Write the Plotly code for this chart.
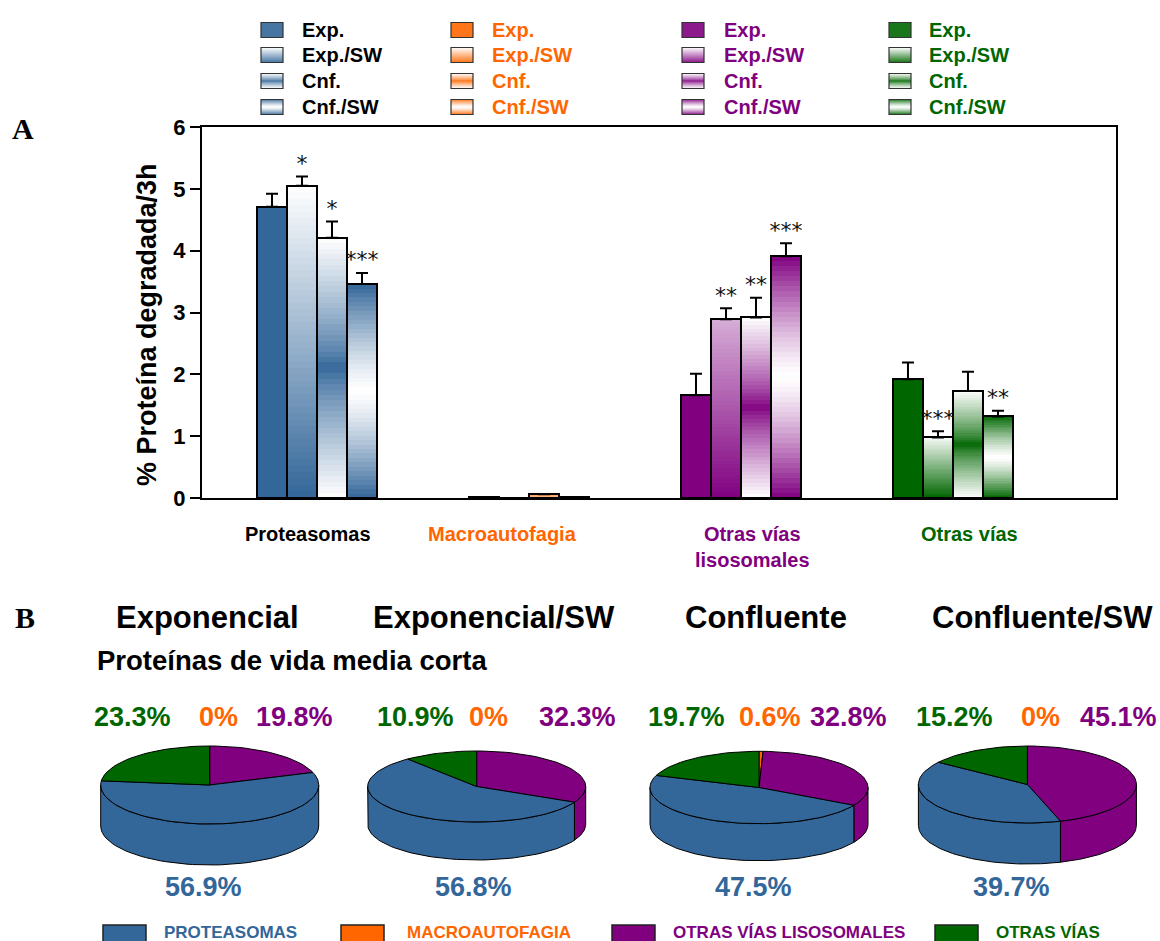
import math
import plotly.graph_objects as go

# ---------------- data ----------------
categories = ["Proteasomas", "Macroautofagia", "Otras vías<br>lisosomales", "Otras vías"]
series_names = ["Exp.", "Exp./SW", "Cnf.", "Cnf./SW"]

exp_vals = [4.71, 0.01, 1.66, 1.92]
expsw_vals = [5.05, 0.00, 2.89, 0.98]
cnf_vals = [4.21, 0.06, 2.92, 1.73]
cnfsw_vals = [3.46, 0.01, 3.91, 1.32]

exp_err = [0.21, 0.0, 0.35, 0.27]
expsw_err = [0.15, 0.0, 0.18, 0.10]
cnf_err = [0.26, 0.0, 0.32, 0.31]
cnfsw_err = [0.18, 0.0, 0.21, 0.09]

exp_sig = ["", "", "", ""]
expsw_sig = ["*", "", "**", "***"]
cnf_sig = ["*", "", "**", ""]
cnfsw_sig = ["***", "", "***", "**"]

pie_titles = ["Exponencial", "Exponencial/SW", "Confluente", "Confluente/SW"]
pie_subtitle = "Proteínas de vida media corta"
pie_legend = ["PROTEASOMAS", "MACROAUTOFAGIA", "OTRAS VÍAS LISOSOMALES", "OTRAS VÍAS"]
pie_proteasomas = [56.9, 56.8, 47.5, 39.7]
pie_macro = [0, 0, 0.6, 0]
pie_lisos = [19.8, 32.3, 32.8, 45.1]
pie_otras = [23.3, 10.9, 19.7, 15.2]

# ---------------- styles ----------------
BLUE, ORANGE, PURPLE, GREEN = "#336699", "#FF6600", "#800080", "#006600"
group_colors = [BLUE, ORANGE, PURPLE, GREEN]
label_colors = ["#000000", ORANGE, PURPLE, GREEN]
sw_top = [1.0, 1.0, 0.68, 0.97]
FONT = "Liberation Sans"
W, H = 1160, 941

values = [exp_vals, expsw_vals, cnf_vals, cnfsw_vals]
errors = [exp_err, expsw_err, cnf_err, cnfsw_err]
sigs = [exp_sig, expsw_sig, cnf_sig, cnfsw_sig]


def hex2rgb(h):
    h = h.lstrip("#")
    return [int(h[i:i + 2], 16) for i in (0, 2, 4)]


def mix(col, t):
    r, g, b = hex2rgb(col)
    t = max(0.0, min(1.0, t))
    return "rgb(%d,%d,%d)" % (round(r + (255 - r) * t), round(g + (255 - g) * t), round(b + (255 - b) * t))


def whiteness(s, f, top=1.0):
    d = abs(f - 0.5) * 2
    if s == 0:
        return 0.0
    if s == 1:
        return f * top
    if s == 2:
        return d ** 0.8
    return 1 - d ** 1.3


fig = go.Figure()

# ---------------- bar chart (A) ----------------
bw = 0.1415
xpos = lambda s: [g + (s - 1.5) * bw for g in range(len(categories))]
NL = 48
for s in range(4):
    for k in range(NL, 0, -1):
        f = (k - 0.5) / NL
        fig.add_trace(go.Bar(
            x=xpos(s), y=[v * k / NL for v in values[s]], width=bw,
            marker=dict(color=[mix(group_colors[g], whiteness(s, f, sw_top[g])) for g in range(4)],
                        line=dict(width=0)),
            hoverinfo="skip", showlegend=False))
    fig.add_trace(go.Bar(
        x=xpos(s), y=values[s], width=bw, name=series_names[s],
        marker=dict(color="rgba(0,0,0,0)", line=dict(color="black", width=2)),
        error_y=dict(type="data", array=errors[s], arrayminus=[0] * 4, symmetric=False,
                     color="black", thickness=2, width=6),
        showlegend=False))
    fig.add_trace(go.Scatter(
        x=xpos(s), y=[v + e for v, e in zip(values[s], errors[s])], text=sigs[s],
        mode="text", textposition="top center", cliponaxis=False,
        textfont=dict(family="DejaVu Sans", size=22, color="#111"),
        hoverinfo="skip", showlegend=False))

# ---------------- pies (B) ----------------
pie_cx = [209.7, 476.7, 759.0, 1027.4]
pie_cy = [785.0, 786.5, 787.5, 784.5]
pie_ry = [39.0, 35.5, 36.2, 38.5]
pie_depth = [41.0, 38.0, 37.0, 41.0]
RX = 109.0
slice_colors = [ORANGE, PURPLE, BLUE, GREEN]


def arc(cx, cy, ry, a1, a2, dy=0.0, n=60):
    pts = []
    for i in range(n + 1):
        a = math.radians(a1 + (a2 - a1) * i / n)
        pts.append((cx + RX * math.sin(a), cy - ry * math.cos(a) + dy))
    return pts


for p in range(4):
    vals = [pie_macro[p], pie_lisos[p], pie_proteasomas[p], pie_otras[p]]
    tot = sum(vals)
    cx, cy, ry, dp = pie_cx[p], pie_cy[p], pie_ry[p], pie_depth[p]
    angles = []
    a = 0.0
    for v in vals:
        angles.append((a, a + 360 * v / tot))
        a += 360 * v / tot
    # side walls
    for (a1, a2), col, v in zip(angles, slice_colors, vals):
        lo, hi = max(a1, 90), min(a2, 270)
        if v <= 0 or hi <= lo:
            continue
        top = arc(cx, cy, ry, lo, hi)
        bot = arc(cx, cy, ry, hi, lo, dy=dp)
        pts = top + bot + [top[0]]
        fig.add_trace(go.Scatter(
            x=[q[0] for q in pts], y=[q[1] for q in pts], mode="lines", fill="toself",
            fillcolor=col, line=dict(color="black", width=1), xaxis="x2", yaxis="y2",
            hoverinfo="skip", showlegend=False))
    # top faces
    for (a1, a2), col, v in zip(angles, slice_colors, vals):
        if v <= 0:
            continue
        pts = [(cx, cy)] + arc(cx, cy, ry, a1, a2, n=max(4, int((a2 - a1) / 3))) + [(cx, cy)]
        fig.add_trace(go.Scatter(
            x=[q[0] for q in pts], y=[q[1] for q in pts], mode="lines", fill="toself",
            fillcolor=col, line=dict(color="black", width=1), xaxis="x2", yaxis="y2",
            hoverinfo="skip", showlegend=False))

ann = []
shapes = []


def txt(x, y, s, size, color="black", family=FONT, xanchor="center", yanchor="middle",
        xref="x2", yref="y2", angle=0):
    ann.append(dict(x=x, y=y, text=s, xref=xref, yref=yref, showarrow=False,
                    xanchor=xanchor, yanchor=yanchor, textangle=angle,
                    font=dict(family=family, size=size, color=color)))


# pie titles / labels
title_x = [207, 494, 766, 1042]
for p in range(4):
    txt(title_x[p], 617, "<b>%s</b>" % pie_titles[p], 31)
txt(95, 660, "<b>%s</b>" % pie_subtitle, 27.5, xanchor="left")

fmt = lambda v: ("%g" % v) + "%"
off_green = [-77, -61, -73, -73]
off_orange = [9, 12, 11, 13]
off_purple = [85, 101, 89, 91]
off_blue = [-6, -3, -6, -16]
for p in range(4):
    cx = pie_cx[p]
    txt(cx + off_green[p], 717, "<b>%s</b>" % fmt(pie_otras[p]), 27, GREEN)
    txt(cx + off_orange[p], 717, "<b>%s</b>" % fmt(pie_macro[p]), 27, ORANGE)
    txt(cx + off_purple[p], 717, "<b>%s</b>" % fmt(pie_lisos[p]), 27, PURPLE)
    txt(cx + off_blue[p], 887, "<b>%s</b>" % fmt(pie_proteasomas[p]), 27, BLUE)

# bottom legend
bl_sq = [103, 341, 612, 935]
bl_tx = [162, 405, 671, 994]
bl_cols = [BLUE, ORANGE, PURPLE, GREEN]
for i in range(4):
    shapes.append(dict(type="rect", xref="x2", yref="y2", x0=bl_sq[i], x1=bl_sq[i] + 43,
                       y0=925, y1=956, fillcolor=bl_cols[i], line=dict(color="#222", width=1.5)))
    txt(bl_tx[i], 932, "<b>%s</b>" % pie_legend[i], 17, bl_cols[i], xanchor="left")

# top legend (gradient squares)
lg_sq = [261, 451, 682, 889]
lg_tx = [300, 490, 722, 927]
lg_rows = [30, 55, 81, 107]
SQW, SQH = 22, 15
for g in range(4):
    for s in range(4):
        x0 = lg_sq[g]
        yc = lg_rows[s]
        ytop = yc - SQH / 2
        nst = 15
        for k in range(nst):
            f = 1 - (k + 0.5) / nst
            shapes.append(dict(type="rect", xref="x2", yref="y2", x0=x0, x1=x0 + SQW,
                               y0=ytop + k * SQH / nst, y1=ytop + (k + 1) * SQH / nst + 0.3,
                               fillcolor=mix(group_colors[g], whiteness(s, f)),
                               line=dict(width=0), layer="above"))
        shapes.append(dict(type="rect", xref="x2", yref="y2", x0=x0, x1=x0 + SQW,
                           y0=ytop, y1=ytop + SQH, fillcolor="rgba(0,0,0,0)",
                           line=dict(color="#333", width=1.2), layer="above"))
        txt(lg_tx[g], yc, "<b>%s</b>" % series_names[s], 20, label_colors[g], xanchor="left")

# category labels for bars
label_shift = [-0.042, -0.127, 0.052, 0.08]
for g in range(4):
    txt(g + label_shift[g], 521, "<b>%s</b>" % categories[g], 20, label_colors[g],
        xref="x", yanchor="top")

# y title and panel letters
txt(147, 325, "<b>% Proteína degradada/3h</b>", 27, angle=-90)
txt(23, 128, "<b>A</b>", 30, family="Liberation Serif")
txt(25, 617, "<b>B</b>", 30, family="Liberation Serif")

x0p, x1p = 202 / W, 1116 / W
y0p, y1p = 1 - 498 / H, 1 - 127 / H
fig.update_layout(
    width=W, height=H, margin=dict(l=0, r=0, t=0, b=0, autoexpand=False),
    paper_bgcolor="white", plot_bgcolor="rgba(0,0,0,0)",
    barmode="overlay", bargap=0,
    showlegend=False,
    xaxis=dict(domain=[x0p, x1p], range=[-0.5425, 3.769], showline=True, linecolor="black",
               linewidth=2, mirror=True, showticklabels=False, ticks="", showgrid=False,
               zeroline=False, anchor="y", automargin=False),
    yaxis=dict(domain=[y0p, y1p], range=[0, 6], tick0=0, dtick=1, ticks="outside", ticklen=10,
               tickwidth=2, tickcolor="black", showline=True, linecolor="black", linewidth=2,
               mirror=True, showgrid=False, zeroline=False, anchor="x", automargin=False,
               tickfont=dict(family=FONT, size=22, color="black", weight="bold")),
    xaxis2=dict(domain=[0, 1], range=[0, W], visible=False, anchor="y2", fixedrange=True,
                automargin=False),
    yaxis2=dict(domain=[0, 1], range=[H, 0], visible=False, anchor="x2", fixedrange=True,
                automargin=False),
    annotations=ann, shapes=shapes,
)

fig.write_html("out.html", config={"displayModeBar": False},
               post_script="document.body.style.margin='0';document.body.style.overflow='hidden';")
